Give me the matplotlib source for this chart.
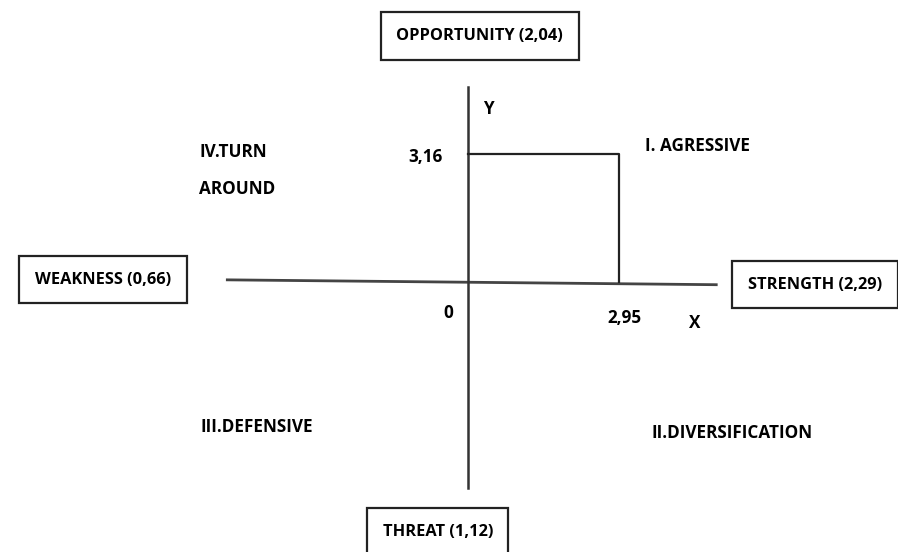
import matplotlib.pyplot as plt

# SWOT internal/external factor scores
strength = 2.29
weakness = 0.66
opportunity = 2.04
threat = 1.12
x_point = 2.95
y_point = 3.16

factor_labels = ["OPPORTUNITY (2,04)", "WEAKNESS (0,66)", "STRENGTH (2,29)", "THREAT (1,12)"]
quadrant_labels = ["I. AGRESSIVE", "II.DIVERSIFICATION", "III.DEFENSIVE", "IV.TURN\nAROUND"]

plt.rcParams['font.family'] = ['Open Sans', 'DejaVu Sans']

fig = plt.figure(figsize=(8.98, 5.52), dpi=100)
ax = fig.add_axes([0, 0, 1, 1])
ax.set_xlim(-9.14, 8.40)
ax.set_ylim(-6.67, 6.96)
ax.axis('off')

# main axes
ax.plot([-4.7, 4.85], [0.05, -0.07], color='#444444', lw=2)
ax.plot([0, 0], [4.8, -5.1], color='#333333', lw=1.8)

# point rectangle
ax.plot([0, x_point, x_point], [y_point, y_point, 0], color='#222222', lw=1.6)

fs_box = 11.8
fs = 12.3
box = dict(boxstyle='square,pad=0.95', fc='white', ec='#222222', lw=1.6)
ax.text(0.23, 6.07, factor_labels[0], ha='center', va='center', fontsize=fs_box, fontweight='bold', bbox=box)
ax.text(-7.13, 0.05, factor_labels[1], ha='center', va='center', fontsize=fs_box, fontweight='bold', bbox=box)
ax.text(6.78, -0.07, factor_labels[2], ha='center', va='center', fontsize=fs_box, fontweight='bold', bbox=box)
ax.text(-0.59, -6.17, factor_labels[3], ha='center', va='center', fontsize=fs_box, fontweight='bold', bbox=box)

ax.text(3.46, 3.36, quadrant_labels[0], ha='left', va='center', fontsize=fs, fontweight='bold')
ax.text(3.59, -3.73, quadrant_labels[1], ha='left', va='center', fontsize=fs, fontweight='bold')
ax.text(-5.23, -3.58, quadrant_labels[2], ha='left', va='center', fontsize=fs, fontweight='bold')
ax.text(-5.25, 2.75, quadrant_labels[3], ha='left', va='center', fontsize=fs, fontweight='bold',
        linespacing=2.3)

ax.text(0.39, 4.27, "Y", ha='center', va='center', fontsize=fs, fontweight='bold')
ax.text(4.43, -1.01, "X", ha='center', va='center', fontsize=fs, fontweight='bold')
ax.text(-1.17, 3.09, "3,16", ha='left', va='center', fontsize=fs, fontweight='bold')
ax.text(-0.39, -0.77, "0", ha='center', va='center', fontsize=fs, fontweight='bold')
ax.text(2.73, -0.89, "2,95", ha='left', va='center', fontsize=fs, fontweight='bold')

fig.savefig('out.png', dpi=100)
